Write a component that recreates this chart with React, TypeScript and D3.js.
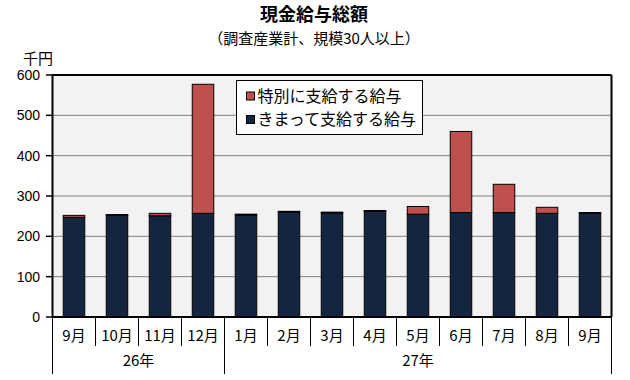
import React from "react";
import * as d3 from "d3";

const months = ["9月", "10月", "11月", "12月", "1月", "2月", "3月", "4月", "5月", "6月", "7月", "8月", "9月"];
const years = [
  { label: "26年", start: 0, end: 4 },
  { label: "27年", start: 4, end: 13 },
];
const regular = [247, 252, 251, 257, 253, 260, 258, 262, 255, 259, 259, 257, 257];
const special = [5, 2, 6, 320, 2, 2, 2, 2, 19, 201, 70, 15, 2];
const yTicks = [0, 100, 200, 300, 400, 500, 600];
const seriesNames = ["特別に支給する給与", "きまって支給する給与"];

const W = 630;
const H = 380;
const left = 52.5;
const right = 611.5;
const top = 75;
const bottom = 317;

const NAVY = "#14263f";
const RED = "#c0504d";
const FONT = "'Noto Sans CJK JP', 'Liberation Sans', sans-serif";

export default function App() {
  const x = d3.scaleBand<number>().domain(d3.range(months.length)).range([left, right]).paddingInner(0.5).paddingOuter(0.25);
  const step = x.step();
  const y = d3.scaleLinear().domain([0, 600]).range([bottom, top]);

  return (
    <svg width={W} height={H} style={{ position: "absolute", left: 0, top: 0, background: "#fff" }} fontFamily={FONT}>
      <text x={314} y={21} textAnchor="middle" fontSize={18} fontWeight="bold" fill="#000">現金給与総額</text>
      <text x={314} y={44} textAnchor="middle" fontSize={15} fill="#000">（調査産業計、規模30人以上）</text>
      <text x={38} y={64} textAnchor="middle" fontSize={15} fill="#000">千円</text>

      <rect x={left} y={top} width={right - left} height={bottom - top} fill="#f2f2f2" />
      {yTicks.filter((t) => t > 0 && t < 600).map((t) => (
        <line key={t} x1={left} x2={right} y1={y(t)} y2={y(t)} stroke="#808080" strokeWidth={1} />
      ))}

      {months.map((m, i) => {
        const bx = x(i)!;
        const bw = x.bandwidth();
        return (
          <g key={i}>
            <rect x={bx} y={y(regular[i])} width={bw} height={y(0) - y(regular[i])} fill={NAVY} stroke="#000" strokeWidth={1} />
            <rect x={bx} y={y(regular[i] + special[i])} width={bw} height={y(regular[i]) - y(regular[i] + special[i])} fill={RED} stroke="#000" strokeWidth={1} />
          </g>
        );
      })}

      {/* frame */}
      <line x1={left} x2={right} y1={top} y2={top} stroke="#000" strokeWidth={2} />
      <line x1={right} x2={right} y1={top} y2={bottom} stroke="#000" strokeWidth={2} />
      <line x1={left} x2={left} y1={top - 1} y2={bottom} stroke="#000" strokeWidth={2} />
      <line x1={left} x2={right} y1={bottom} y2={bottom} stroke="#000" strokeWidth={2} />

      {yTicks.map((t) => (
        <g key={t}>
          <line x1={46} x2={left} y1={y(t)} y2={y(t)} stroke="#000" strokeWidth={1.5} />
          <text x={40} y={y(t)} dy="0.35em" textAnchor="end" fontSize={14} fontFamily="'Liberation Sans', Arial, sans-serif" fill="#000">{t}</text>
        </g>
      ))}

      {/* category axis */}
      {d3.range(months.length + 1).map((i) => {
        const xx = left + i * step;
        const isYear = years.some((yr) => yr.start === i || yr.end === i);
        return <line key={i} x1={xx} x2={xx} y1={bottom} y2={isYear ? 374 : 346} stroke="#000" strokeWidth={1} />;
      })}
      {months.map((m, i) => (
        <text key={i} x={left + (i + 0.5) * step} y={336} dy="0.35em" textAnchor="middle" fontSize={15} fill="#000">{m}</text>
      ))}
      {years.map((yr) => (
        <text key={yr.label} x={left + ((yr.start + yr.end) / 2) * step} y={361} dy="0.35em" textAnchor="middle" fontSize={15} fill="#000">{yr.label}</text>
      ))}

      {/* legend */}
      <rect x={236.5} y={80.5} width={186} height={54} fill="#fff" stroke="#000" strokeWidth={1} />
      {seriesNames.map((n, i) => (
        <g key={n}>
          <rect x={246.5} y={(i === 0 ? 96 : 119.5) - 4} width={8} height={8} fill={i === 0 ? RED : NAVY} stroke="#000" strokeWidth={1} />
          <text x={257.5} y={i === 0 ? 96 : 119.5} dy="0.35em" fontSize={16} fill="#000">{n}</text>
        </g>
      ))}
    </svg>
  );
}
